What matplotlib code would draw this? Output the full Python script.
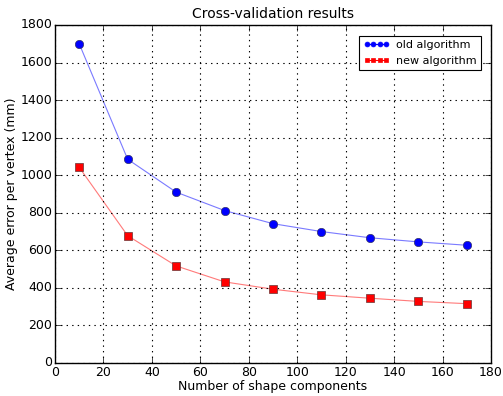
import matplotlib
matplotlib.use('Agg')
import matplotlib.pyplot as plt

components = [10, 30, 50, 70, 90, 110, 130, 150, 170]
old_err = [1700, 1085, 910, 812, 742, 700, 667, 645, 627]
new_err = [1042, 678, 517, 432, 393, 363, 345, 328, 316]

plt.style.use('classic')
fig = plt.figure(figsize=(5.03, 3.96), dpi=100)
ax = fig.add_axes([55 / 503, 33 / 396, 436 / 503, 338 / 396])

ax.plot(components, old_err, '-', color='#7a7aff', lw=0.8, zorder=2)
ax.plot(components, old_err, 'o', color='b', mec='#333366', ms=6, zorder=3)
ax.plot(components, new_err, '-', color='#ff7a7a', lw=0.8, zorder=2)
ax.plot(components, new_err, 's', color='r', mec='#663333', ms=5.5, zorder=3)

# proxy handles for the legend
h1, = ax.plot([], [], '-o', color='b', mfc='b', mec='b', ms=3.5, lw=0.8)
h2, = ax.plot([], [], '-s', color='r', mfc='r', mec='r', ms=3.5, lw=0.8)
leg = ax.legend([h1, h2], ['old algorithm', 'new algorithm'], loc='upper right',
                numpoints=4, fontsize=8, handlelength=2.3, borderpad=0.4,
                handletextpad=0.6, bbox_to_anchor=(0.99, 0.985))
leg.get_frame().set_linewidth(0.8)

ax.set_xlim(0, 180)
ax.set_ylim(0, 1800)
ax.set_xticks(range(0, 181, 20))
ax.set_yticks(range(0, 1801, 200))
ax.tick_params(labelsize=9, pad=2)
ax.grid(True, ls=':', color='k', lw=0.8)
ax.set_xlabel('Number of shape components', fontsize=9, labelpad=1)
ax.set_ylabel('Average error per vertex (mm)', fontsize=9, labelpad=2)
ax.set_title('Cross-validation results', fontsize=10)

fig.savefig('out.png', dpi=100)
